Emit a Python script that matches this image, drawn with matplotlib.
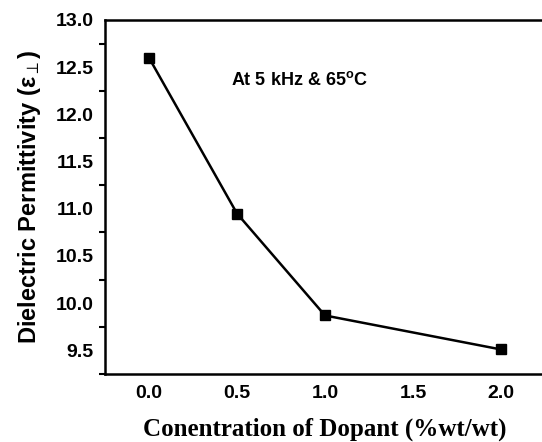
import matplotlib
matplotlib.use('Agg')
import matplotlib.pyplot as plt
from matplotlib.ticker import FixedLocator

# data
dopant = [0.0, 0.5, 1.0, 2.0]
permittivity = [12.60, 10.95, 9.87, 9.51]
x_ticks = [0.0, 0.5, 1.0, 1.5, 2.0]
y_ticks = [9.5, 10.0, 10.5, 11.0, 11.5, 12.0, 12.5, 13.0]

plt.rcParams['mathtext.fontset'] = 'custom'
plt.rcParams['mathtext.rm'] = 'Liberation Sans:bold'
plt.rcParams['mathtext.bf'] = 'Liberation Sans:bold'
plt.rcParams['mathtext.it'] = 'Liberation Sans:bold'

fig = plt.figure(figsize=(5.42, 4.42), dpi=100)
ax = fig.add_axes([105 / 542, 1 - 374 / 442, 440 / 542, 354 / 442])

ax.plot(dopant, permittivity, '-', color='black', lw=1.8,
        marker='s', markersize=7.5, markerfacecolor='black',
        markeredgecolor='black')

ax.set_xlim(-0.25, 2.25)
ax.set_ylim(9.25, 13.0)
ax.spines['right'].set_visible(False)
for side in ('left', 'bottom', 'top'):
    ax.spines[side].set_linewidth(1.8)
    ax.spines[side].set_clip_on(False)

tick_font = {'family': 'Liberation Sans', 'weight': 'bold', 'size': 14}
ax.xaxis.set_major_locator(FixedLocator(x_ticks))
ax.yaxis.set_major_locator(FixedLocator(y_ticks))
ax.yaxis.set_minor_locator(FixedLocator([v + 0.25 for v in y_ticks[:-1]] + [9.25]))
ax.tick_params(axis='x', which='both', length=0, pad=8)
ax.tick_params(axis='y', which='major', length=0, pad=8)
ax.tick_params(axis='y', which='minor', length=4, width=1.5, direction='out')
ax.set_xticklabels([f'{v:.1f}' for v in x_ticks], fontdict=tick_font)
ax.set_yticklabels([f'{v:.1f}' for v in y_ticks], fontdict=tick_font)

ax.set_xlabel('Conentration of Dopant (%wt/wt)', family='Liberation Serif',
              fontweight='bold', fontsize=18, labelpad=11)
ax.set_ylabel(r'Dielectric Permittivity ($\epsilon_{\perp}$)',
              family='Liberation Sans', fontweight='bold', fontsize=17,
              labelpad=9)

ax.text(0.465, 12.36, r'At 5 kHz & 65$^{\mathrm{o}}$C', family='Liberation Sans',
        fontweight='bold', fontsize=13, va='center', ha='left')

fig.savefig('out.png', dpi=100)
